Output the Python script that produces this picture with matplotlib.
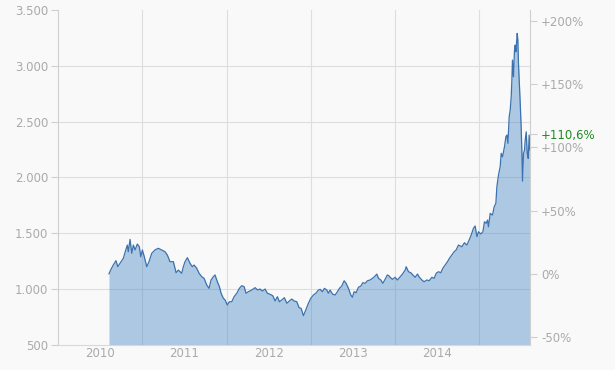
import numpy as np
import matplotlib.pyplot as plt

# time axis in decimal years, price values
years = [2010.605, 2010.629, 2010.656, 2010.688, 2010.709, 2010.736, 2010.775, 2010.804, 2010.823, 2010.834,
         2010.855, 2010.875, 2010.894, 2010.914, 2010.941, 2010.965, 2010.982, 2011.001, 2011.024, 2011.053,
         2011.080, 2011.112, 2011.151, 2011.190, 2011.231, 2011.270, 2011.297, 2011.329, 2011.369, 2011.401,
         2011.428, 2011.468, 2011.487, 2011.507, 2011.535, 2011.567, 2011.594, 2011.614, 2011.646, 2011.674,
         2011.706, 2011.733, 2011.765, 2011.792, 2011.816, 2011.843, 2011.863, 2011.891, 2011.915, 2011.935,
         2011.962, 2011.982, 2012.009, 2012.033, 2012.062, 2012.089, 2012.121, 2012.152, 2012.180, 2012.208,
         2012.231, 2012.259, 2012.299, 2012.338, 2012.370, 2012.398, 2012.425, 2012.457, 2012.484, 2012.516,
         2012.548, 2012.576, 2012.603, 2012.627, 2012.655, 2012.686, 2012.715, 2012.745, 2012.774, 2012.801,
         2012.833, 2012.860, 2012.884, 2012.912, 2012.940, 2012.971, 2012.999, 2013.030, 2013.059, 2013.090,
         2013.110, 2013.137, 2013.161, 2013.189, 2013.208, 2013.228, 2013.256, 2013.288, 2013.315, 2013.339,
         2013.367, 2013.395, 2013.418, 2013.446, 2013.474, 2013.493, 2013.513, 2013.537, 2013.564, 2013.593,
         2013.617, 2013.644, 2013.671, 2013.703, 2013.731, 2013.754, 2013.783, 2013.802, 2013.830, 2013.854,
         2013.881, 2013.908, 2013.929, 2013.940, 2013.968, 2014.000, 2014.027, 2014.059, 2014.087, 2014.119,
         2014.131, 2014.158, 2014.186, 2014.210, 2014.237, 2014.265, 2014.288, 2014.317, 2014.344, 2014.376,
         2014.403, 2014.436, 2014.463, 2014.487, 2014.514, 2014.542, 2014.566, 2014.593, 2014.621, 2014.644,
         2014.673, 2014.700, 2014.724, 2014.751, 2014.792, 2014.822, 2014.851, 2014.878, 2014.902, 2014.929,
         2014.949, 2014.970, 2014.989, 2015.017, 2015.041, 2015.060, 2015.080, 2015.096, 2015.107, 2015.128,
         2015.155, 2015.175, 2015.195, 2015.207, 2015.226, 2015.246, 2015.258, 2015.274, 2015.297, 2015.314,
         2015.326, 2015.338, 2015.353, 2015.365, 2015.377, 2015.385, 2015.392, 2015.404, 2015.416, 2015.424,
         2015.433, 2015.440, 2015.448, 2015.456, 2015.463, 2015.472, 2015.484, 2015.495, 2015.504, 2015.511,
         2015.523, 2015.535, 2015.543, 2015.555, 2015.567, 2015.579, 2015.590, 2015.599]

prices = [1135, 1176, 1214, 1253, 1199, 1229, 1274, 1349, 1393, 1333,
          1444, 1319, 1393, 1349, 1402, 1378, 1288, 1349, 1288, 1199,
          1244, 1319, 1349, 1364, 1349, 1333, 1304, 1244, 1244, 1145,
          1169, 1140, 1199, 1244, 1280, 1229, 1199, 1214, 1185, 1140,
          1109, 1095, 1035, 1005, 1080, 1109, 1125, 1064, 1020, 961,
          916, 901, 856, 885, 885, 930, 961, 1005, 1029, 1020,
          961, 975, 990, 1011, 990, 999, 981, 999, 961, 952,
          939, 892, 930, 885, 901, 921, 871, 892, 909, 892,
          885, 832, 826, 760, 811, 871, 916, 945, 961, 990,
          996, 975, 1005, 990, 961, 990, 954, 945, 975, 1005,
          1026, 1073, 1050, 1005, 945, 925, 975, 966, 1014, 1026,
          1056, 1050, 1073, 1080, 1095, 1109, 1133, 1095, 1080, 1050,
          1086, 1125, 1116, 1104, 1086, 1104, 1080, 1109, 1133, 1169,
          1199, 1154, 1145, 1125, 1104, 1133, 1104, 1080, 1064, 1080,
          1073, 1104, 1095, 1140, 1154, 1145, 1185, 1214, 1244, 1274,
          1304, 1333, 1349, 1393, 1378, 1414, 1393, 1438, 1483, 1543,
          1564, 1468, 1512, 1492, 1512, 1602, 1588, 1617, 1557, 1677,
          1662, 1736, 1767, 1916, 2021, 2095, 2215, 2184, 2274, 2364,
          2379, 2305, 2543, 2603, 2722, 2872, 3051, 2901, 3141, 3185,
          3125, 3201, 3290, 3230, 3021, 2872, 2663, 2453, 2215, 1966,
          2215, 2245, 2334, 2408, 2215, 2170, 2379, 2245]

price_ticks = [500, 1000, 1500, 2000, 2500, 3000, 3500]
price_labels = ['500', '1.000', '1.500', '2.000', '2.500', '3.000', '3.500']
year_labels = ['2010', '2011', '2012', '2013', '2014']
year_lines = [2011, 2012, 2013, 2014, 2015]
pct_ticks = [-50, 0, 50, 100, 150, 200]
pct_labels = ['-50%', '0%', '+50%', '+100%', '+150%', '+200%']
last_pct = 110.6
last_label = '+110,6%'

bg = '#f9f9f9'
txt = '#aaaaaa'
grid_c = '#dedede'
spine_c = '#cfcfcf'

fig = plt.figure(figsize=(6.15, 3.70), dpi=100, facecolor=bg)
ax = fig.add_axes([0.0943, 0.0684, 0.7675, 0.9046])
ax.set_facecolor(bg)

ax.set_xlim(2010, 2015.6)
ax.set_ylim(price_ticks[0], price_ticks[-1])

# grid (top line is left out like in the original)
for p in price_ticks[1:-1]:
    ax.axhline(p, color=grid_c, lw=0.8, zorder=1)
for yl in year_lines:
    ax.axvline(yl, color=grid_c, lw=0.8, zorder=1)

ax.fill_between(years, prices, price_ticks[0], color='#3d7fc1', alpha=0.4, lw=0, zorder=2)
ax.plot(years, prices, color='#3b72ae', lw=0.9, zorder=3)

ax.set_yticks(price_ticks)
ax.set_yticklabels(price_labels)
ax.set_xticks([int(y) + 0.5 for y in year_labels])
ax.set_xticklabels(year_labels)
ax.tick_params(axis='y', colors=spine_c, labelcolor=txt, labelsize=8.5, length=5, width=0.8, pad=2)
ax.tick_params(axis='x', colors=spine_c, labelcolor=txt, labelsize=8.5, length=0, pad=2)

for s in ['top', 'right']:
    ax.spines[s].set_visible(False)
ax.spines['left'].set_color(spine_c)
ax.spines['left'].set_linewidth(0.8)
ax.spines['bottom'].set_color('#d8d8d8')
ax.spines['bottom'].set_linewidth(0.8)

# percent axis relative to the first price
base = prices[0]
ax2 = ax.twinx()
ax2.set_ylim((price_ticks[0] / base - 1) * 100, (price_ticks[-1] / base - 1) * 100)
ax2.set_yticks(pct_ticks + [last_pct])
ax2.set_yticklabels(pct_labels + [last_label])
ax2.tick_params(axis='y', colors=spine_c, labelcolor=txt, labelsize=8.5, length=5, width=0.8, pad=3)
ax2.get_yticklabels()[-1].set_color('#1e8c1e')
for s in ['top', 'left', 'bottom']:
    ax2.spines[s].set_visible(False)
ax2.spines['right'].set_color(spine_c)
ax2.spines['right'].set_linewidth(0.8)

fig.savefig('out.png', dpi=100, facecolor=bg)
